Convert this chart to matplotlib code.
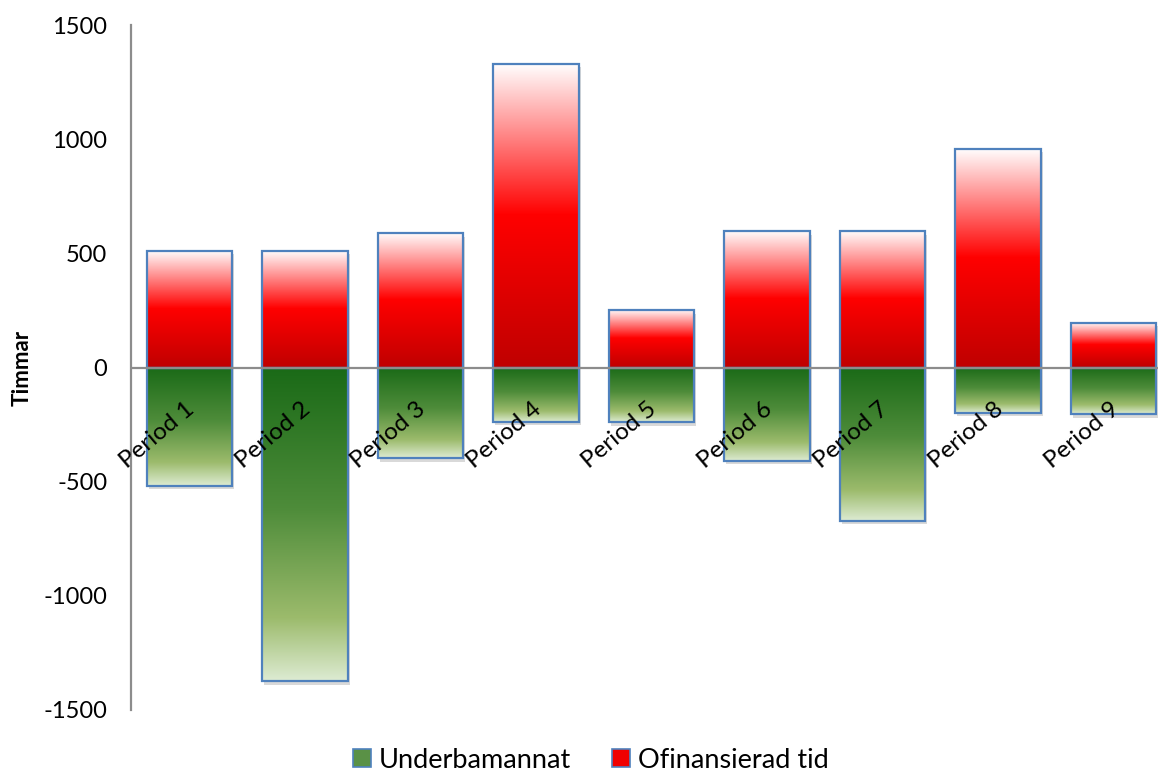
import matplotlib
matplotlib.use("Agg")
import matplotlib.pyplot as plt
import matplotlib.patheffects as pe
from matplotlib.colors import LinearSegmentedColormap
from matplotlib.patches import Patch
import numpy as np

# data
periods = ["Period 1", "Period 2", "Period 3", "Period 4", "Period 5",
           "Period 6", "Period 7", "Period 8", "Period 9"]
ofinansierad = [511, 511, 588, 1331, 250, 596, 597, 959, 195]
underbemannat = [-518, -1374, -397, -237, -239, -409, -671, -198, -205]
y_ticks = [-1500, -1000, -500, 0, 500, 1000, 1500]

plt.rcParams['font.family'] = ['Lato', 'DejaVu Sans']

edge_blue = '#4F81BD'
red_cmap = LinearSegmentedColormap.from_list(
    'redgrad', [(0.0, '#FFFFFF'), (0.5, '#FF0000'), (1.0, '#C00000')])
green_cmap = LinearSegmentedColormap.from_list(
    'greengrad', [(0.0, '#1A6A17'), (0.45, '#4E8C3A'), (0.8, '#9CBB6C'), (1.0, '#DDEBD2')])

fig = plt.figure(figsize=(11.58, 7.75), dpi=100)
ax = fig.add_axes([131 / 1158, 65 / 775, 1027 / 1158, 685 / 775])

x = np.arange(len(periods))
width = 0.74
grad = np.linspace(0, 1, 256).reshape(-1, 1)


def gradient_bars(values, cmap):
    # soft shadow under each bar
    ax.bar(x, values, width, color='white', edgecolor='none', zorder=1,
           path_effects=[pe.SimplePatchShadow(offset=(1.5, -2.5), shadow_rgbFace='#000000', alpha=0.15),
                         pe.Normal()])
    bars = ax.bar(x, values, width, facecolor='none', edgecolor=edge_blue,
                  linewidth=1.6, zorder=3)
    for b in bars:
        x0, y0 = b.get_x(), b.get_y()
        x1, y1 = x0 + b.get_width(), y0 + b.get_height()
        lo, hi = min(y0, y1), max(y0, y1)
        im = ax.imshow(grad, cmap=cmap, aspect='auto', extent=(x0, x1, lo, hi),
                       origin='upper', interpolation='bilinear', zorder=2)
        im.set_clip_path(b)
    return bars


gradient_bars(ofinansierad, red_cmap)
gradient_bars(underbemannat, green_cmap)

ax.axhline(0, color='#8C8C8C', linewidth=1.6, zorder=4)

ax.set_xlim(-0.506, 8.385)
ax.set_ylim(-1500, 1500)
ax.set_yticks(y_ticks)
ax.set_yticklabels([str(v) for v in y_ticks], fontsize=17)
ax.tick_params(axis='y', length=0, pad=17)
ax.set_xticks([])

for s in ['top', 'right', 'bottom']:
    ax.spines[s].set_visible(False)
ax.spines['left'].set_color('#8C8C8C')
ax.spines['left'].set_linewidth(1.6)

ax.set_ylabel('Timmar', fontsize=16, fontweight='bold')
ax.yaxis.set_label_coords(-0.096, 0.5)

for i, name in enumerate(periods):
    ax.annotate(name, xy=(x[i], 0), xytext=(-3, -22), textcoords='offset points',
                rotation=40, rotation_mode='anchor', ha='right', va='top',
                fontsize=17.5, zorder=5)

handles = [Patch(facecolor='#5A9146', edgecolor=edge_blue, linewidth=1.2, label='Underbamannat'),
           Patch(facecolor='#F00000', edgecolor=edge_blue, linewidth=1.2, label='Ofinansierad tid')]
fig.legend(handles=handles, loc='center', bbox_to_anchor=(591 / 1158, 15 / 775),
           ncol=2, frameon=False, fontsize=19.5, handlelength=0.65, handleheight=0.65,
           handletextpad=0.3, columnspacing=1.5, borderpad=0.2)

fig.savefig('out.png', dpi=100, facecolor='white')
